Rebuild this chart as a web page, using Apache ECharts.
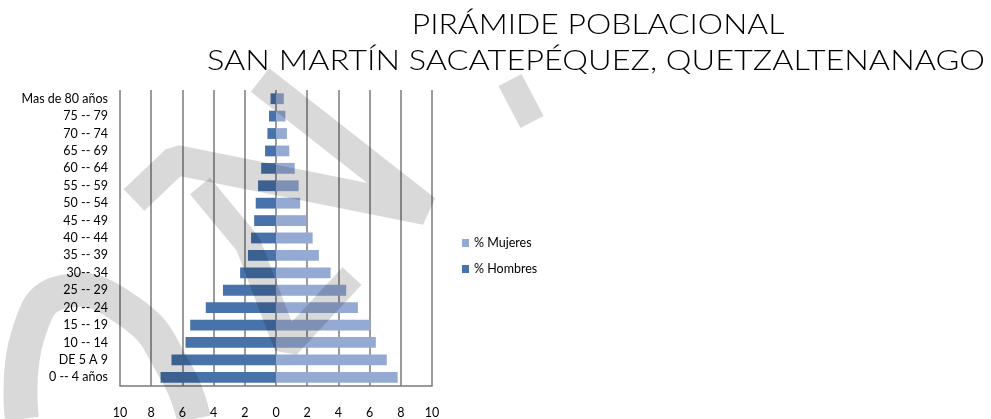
<!DOCTYPE html>
<html>
<head>
<meta charset="utf-8">
<script src="https://cdn.jsdelivr.net/npm/echarts@6/dist/echarts.min.js"></script>
<style>
html,body{margin:0;padding:0;background:#fff;}
#chart{width:991px;height:419px;}
</style>
</head>
<body>
<div id="chart"></div>
<script>
// Categories (bottom to top)
const categories = ['0 -- 4 años','DE 5 A 9','10 -- 14','15 -- 19','20 -- 24','25 -- 29','30-- 34','35 -- 39','40 -- 44','45 -- 49','50 -- 54','55 -- 59','60 -- 64','65 -- 69','70 -- 74','75 -- 79','Mas de 80 años'];
const hombres = [7.4, 6.7, 5.8, 5.5, 4.5, 3.4, 2.3, 1.8, 1.6, 1.4, 1.3, 1.15, 0.95, 0.7, 0.55, 0.45, 0.35];
const mujeres = [7.8, 7.1, 6.4, 6.05, 5.25, 4.5, 3.5, 2.75, 2.35, 1.95, 1.55, 1.45, 1.2, 0.85, 0.7, 0.6, 0.5];
const xTicks = [-10, -8, -6, -4, -2, 0, 2, 4, 6, 8, 10];
const titleLines = ['PIRÁMIDE POBLACIONAL', 'SAN MARTÍN SACATEPÉQUEZ, QUETZALTENANAGO'];

const chart = echarts.init(document.getElementById('chart'), null, {renderer: 'canvas'});
const FONT = 'Lato, "Open Sans", sans-serif';
const wmColor = 'rgba(0,0,0,0.15)';
const wm = (points, width, smooth) => ({
  type: 'polyline', silent: true, z: 100,
  shape: {points: points, smooth: smooth || 0},
  style: {stroke: wmColor, lineWidth: width, fill: null, lineCap: 'butt', lineJoin: 'bevel'}
});
const titleText = (txt, cx, cy, sx) => ({
  type: 'text', x: cx, y: cy, scaleX: sx, scaleY: 1, z: 10,
  style: {text: txt, x: 0, y: 0, font: '300 28px ' + FONT, fill: '#000',
          align: 'center', verticalAlign: 'middle', textAlign: 'center', textVerticalAlign: 'middle'}
});

chart.setOption({
  animation: false,
  backgroundColor: '#fff',
  graphic: [
    titleText(titleLines[0], 598, 25, 1.14),
    titleText(titleLines[1], 596, 61, 1.16),
    wm([[260, 80], [426, 210], [176, 160], [134, 200]], 30),
    wm([[200, 186], [248, 244], [287, 346], [352, 276]], 26),
    wm([[22, 419], [28, 335], [62, 292], [130, 312], [176, 372], [194, 419]], 34, 0.5),
    wm([[510, 80], [532, 122]], 26)
  ],
  legend: {
    orient: 'vertical', left: 457, top: 231,
    itemWidth: 7, itemHeight: 8, itemGap: 12,
    icon: 'rect',
    textStyle: {fontFamily: FONT, fontSize: 12.5, color: '#000', lineHeight: 14},
    data: ['% Mujeres', '% Hombres']
  },
  grid: {left: 120, right: 991 - 432, top: 90, bottom: 419 - 386, containLabel: false},
  xAxis: {
    type: 'value', min: -10, max: 10, interval: 2,
    axisLine: {show: true, lineStyle: {color: '#7a7a7a', width: 1.5}},
    axisTick: {show: false},
    splitLine: {show: true, lineStyle: {color: '#7a7a7a', width: 1.5}},
    axisLabel: {margin: 20, fontFamily: FONT, fontSize: 12.5, color: '#000',
      formatter: v => xTicks.includes(v) ? String(Math.abs(v)) : ''}
  },
  yAxis: {
    type: 'category', data: categories,
    axisLine: {show: false}, axisTick: {show: false},
    axisLabel: {margin: 12, fontFamily: FONT, fontSize: 12.5, color: '#000'}
  },
  series: [
    {name: '% Mujeres', type: 'bar', stack: 'p', barWidth: '62%',
     itemStyle: {color: '#95aad3'}, data: mujeres},
    {name: '% Hombres', type: 'bar', stack: 'p', barWidth: '62%',
     itemStyle: {color: '#4773aa'}, data: hombres.map(v => -v)}
  ]
});
</script>
</body>
</html>
